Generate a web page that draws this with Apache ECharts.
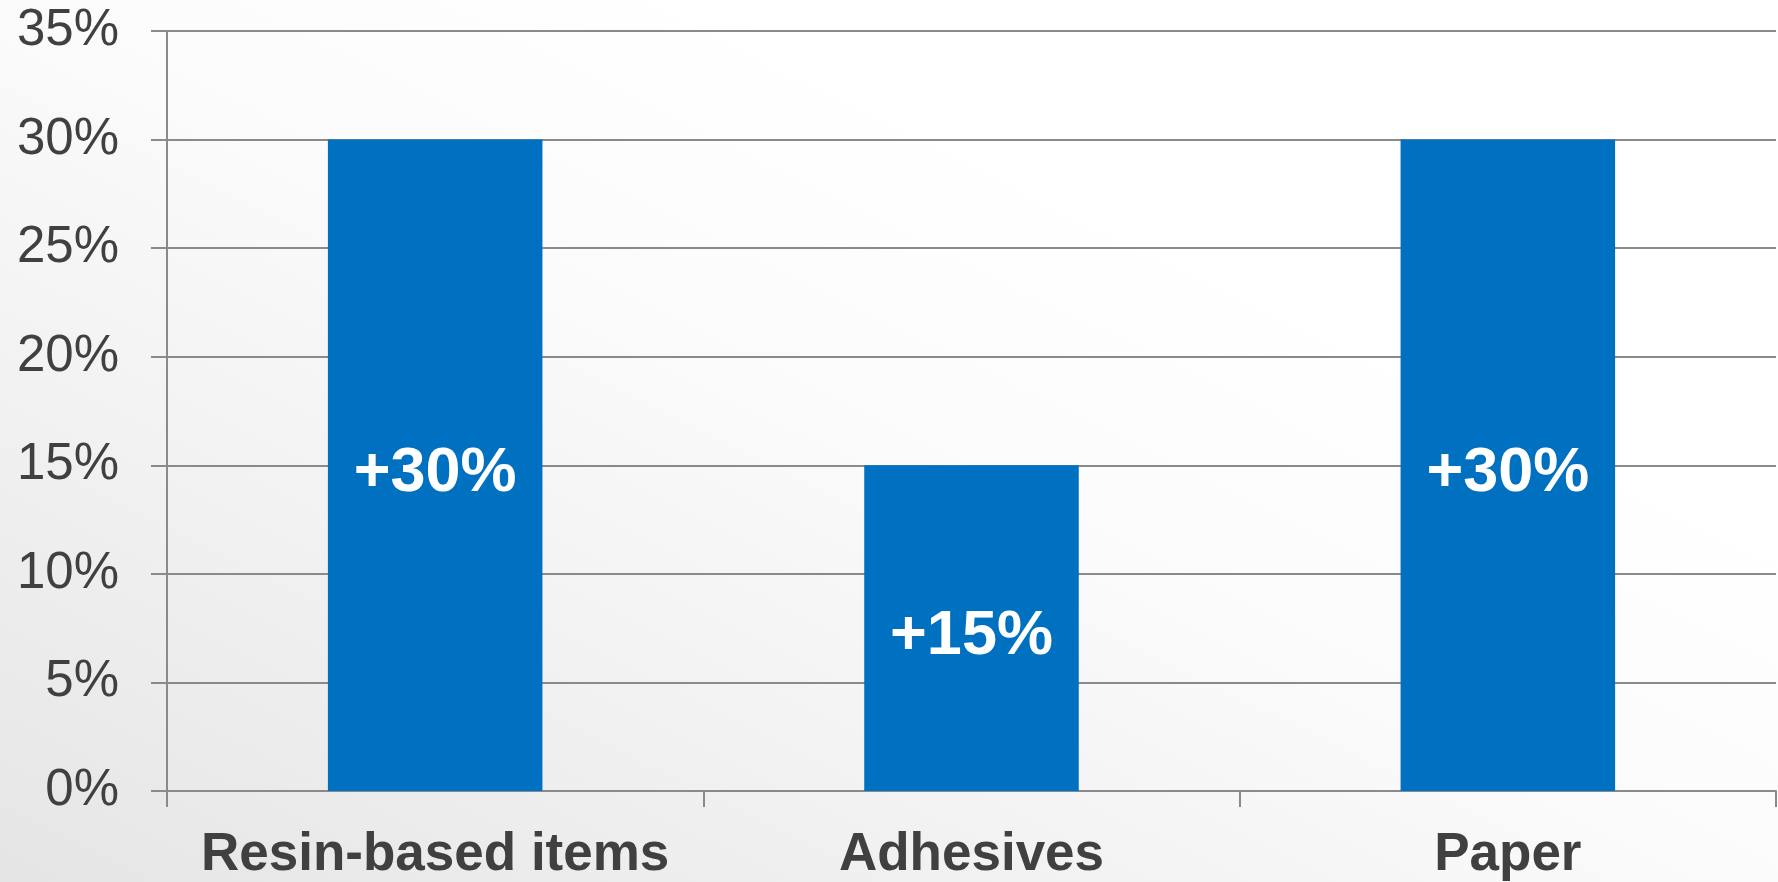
<!DOCTYPE html>
<html>
<head>
    <meta charset="utf-8">
    <title>ECharts</title>
    <script src="https://cdn.jsdelivr.net/npm/echarts@6/dist/echarts.min.js"></script>
    <style>
        html, body { margin: 0; padding: 0; }
        #main {
            width: 1778px; height: 882px;
            background: linear-gradient(to top right, #e5e5e5 0%, #f0f0f0 25%, #fbfbfb 50%, #ffffff 70%);
        }
    </style>
</head>
<body>
<div id="main"></div>
<script type="text/javascript">
    // 数据
    var categories = ['Resin-based items', 'Adhesives', 'Paper'];
    var values = [30, 15, 30];
    var valueLabels = ['+30%', '+15%', '+30%'];
    var yTicks = [0, 5, 10, 15, 20, 25, 30, 35];

    var myChart = echarts.init(document.getElementById('main'));
    var gridColor = '#8a8a8a';

    var option = {
        backgroundColor: 'transparent',
        animation: false,
        grid: { left: 167, right: 2, top: 31, bottom: 91 },
        xAxis: {
            type: 'category',
            data: categories,
            axisLine: { show: true, lineStyle: { color: gridColor, width: 2 } },
            axisTick: { show: true, interval: 0, alignWithLabel: false, length: 16, lineStyle: { color: gridColor, width: 2 } },
            axisLabel: {
                interval: 0,
                hideOverlap: false,
                margin: 38,
                color: '#404040',
                fontFamily: 'Liberation Sans',
                fontWeight: 'bold',
                fontSize: 53
            }
        },
        yAxis: {
            type: 'value',
            min: yTicks[0],
            max: yTicks[yTicks.length - 1],
            interval: 5,
            axisLine: { show: true, lineStyle: { color: gridColor, width: 2 } },
            axisTick: { show: true, length: 16, lineStyle: { color: gridColor, width: 2 } },
            splitLine: { lineStyle: { color: gridColor, width: 2 } },
            axisLabel: {
                margin: 48,
                color: '#404040',
                fontFamily: 'Liberation Sans',
                fontSize: 51,
                formatter: '{value}%'
            }
        },
        series: [{
            type: 'bar',
            data: values,
            barWidth: '40%',
            itemStyle: { color: '#0070C0' },
            label: {
                show: true,
                position: 'inside',
                offset: [0, 8],
                color: '#ffffff',
                fontFamily: 'Liberation Sans',
                fontWeight: 'bold',
                fontSize: 63,
                formatter: function (p) { return valueLabels[p.dataIndex]; }
            }
        }]
    };

    myChart.setOption(option);
</script>
</body>
</html>
